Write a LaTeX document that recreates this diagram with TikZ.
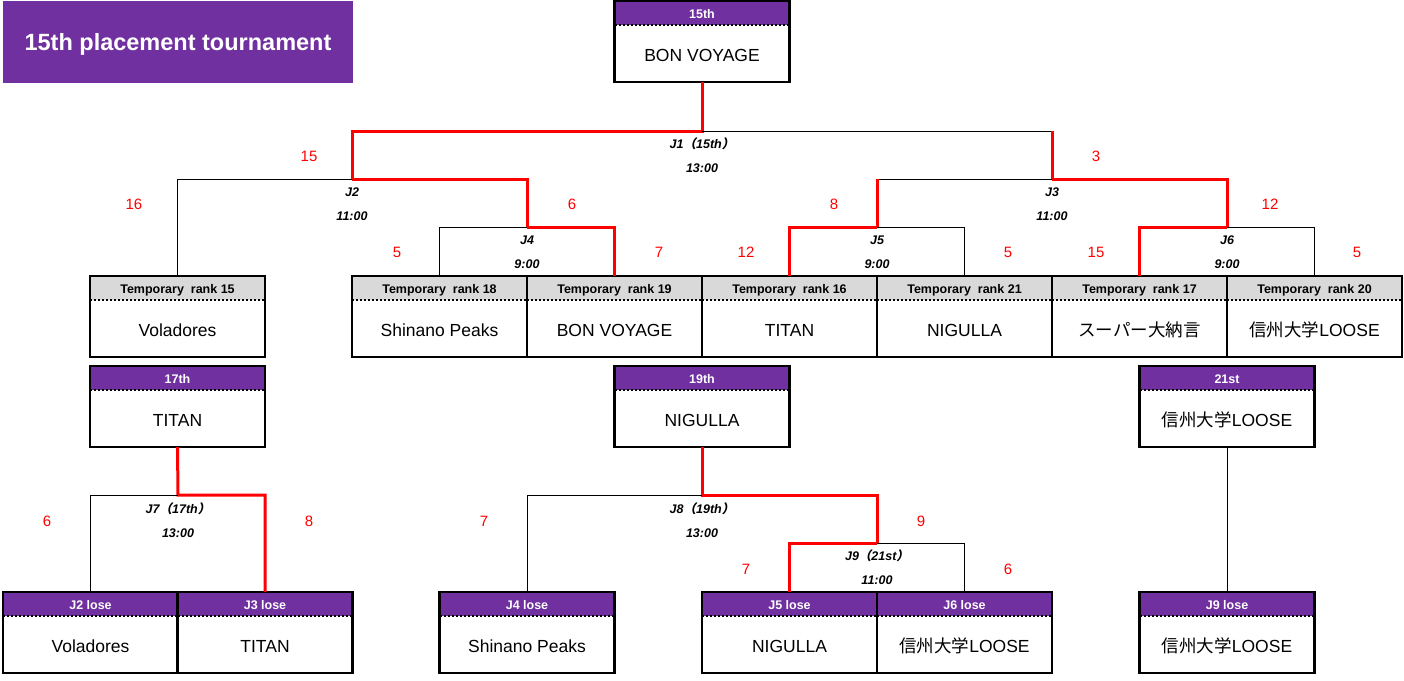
\documentclass[tikz,border=0pt]{standalone}
\usepackage{fontspec}
\setmainfont{Liberation Sans}
\newfontfamily\jp{Noto Sans CJK JP}
\newfontfamily\jpsl{Noto Sans CJK JP}[FakeSlant=0.2]
\definecolor{purp}{HTML}{7030A0}
\definecolor{hgray}{HTML}{D9D9D9}
\newcommand\teambox[6]{%
  \node[hdr#4] (#1h) at (#2,{#3+12}) {#5};
  \node[bodybox] (#1) at (#2,{#3+52.5}) {#6};
  \draw[dotsep] (#1h.south west) -- (#1h.south east);
  \draw[boxframe] (#1h.north west) rectangle (#1.south east);
}
\begin{document}
\begin{tikzpicture}[x=1pt,y=-1pt,
  bodybox/.style={minimum width=175pt,minimum height=57pt,inner sep=0pt,outer sep=0pt,
    text height=15pt,text depth=0pt,font=\fontsize{17.5}{20}\selectfont},
  hdrbase/.style={minimum width=175pt,minimum height=24pt,inner sep=0pt,outer sep=0pt,
    text height=11pt,text depth=0pt,font=\bfseries\fontsize{12.5}{14}\selectfont},
  hdrp/.style={hdrbase,fill=purp,text=white},
  hdrg/.style={hdrbase,fill=hgray,text=black},
  boxframe/.style={draw=black,line width=2.2pt},
  dotsep/.style={draw=black,line width=1.8pt,dash pattern=on 2pt off 2pt},
  win/.style={draw=red,line width=3pt},
  lose/.style={draw=black,line width=1pt},
  score/.style={text=red,font=\fontsize{15}{18}\selectfont,inner sep=0pt},
  mlab/.style={font=\bfseries\itshape\fontsize{12.5}{15}\selectfont,inner sep=0pt},
]
\useasboundingbox (0,0) rectangle (1404,680);

% title
\node[fill=purp,text=white,minimum width=350pt,minimum height=82pt,inner sep=0pt,
      text height=17pt,text depth=0pt,
      font=\bfseries\fontsize{23.5}{26}\selectfont] (title) at (178,42) {15th placement tournament};

% junction coordinates
\coordinate (J1) at (702,131);
\coordinate (J2) at (352,179);
\coordinate (J3) at (1052,179);
\coordinate (J4) at (527,227);
\coordinate (J5) at (877,227);
\coordinate (J6) at (1227,227);
\coordinate (J7) at (178,495);
\coordinate (J8) at (702,495);
\coordinate (J9) at (877,543);

% boxes
\teambox{top15}{702}{1}{p}{15th}{BON VOYAGE}

\teambox{t15}{177.5}{276}{g}{Temporary~~rank 15}{Voladores}
\teambox{t18}{439.5}{276}{g}{Temporary~~rank 18}{Shinano Peaks}
\teambox{t19}{614.5}{276}{g}{Temporary~~rank 19}{BON VOYAGE}
\teambox{t16}{789.5}{276}{g}{Temporary~~rank 16}{TITAN}
\teambox{t21}{964.5}{276}{g}{Temporary~~rank 21}{NIGULLA}
\teambox{t17}{1139.5}{276}{g}{Temporary~~rank 17}{{\jp スーパー大納言}}
\teambox{t20}{1314.5}{276}{g}{Temporary~~rank 20}{{\jp 信州大学}LOOSE}

\teambox{b17}{177.5}{366}{p}{17th}{TITAN}
\teambox{b19}{702}{366}{p}{19th}{NIGULLA}
\teambox{b21}{1227}{366}{p}{21st}{{\jp 信州大学}LOOSE}

\teambox{l2}{90.5}{592}{p}{J2 lose}{Voladores}
\teambox{l3}{265}{592}{p}{J3 lose}{TITAN}
\teambox{l4}{527}{592}{p}{J4 lose}{Shinano Peaks}
\teambox{l5}{789.5}{592}{p}{J5 lose}{NIGULLA}
\teambox{l6}{964.5}{592}{p}{J6 lose}{{\jp 信州大学}LOOSE}
\teambox{l9}{1227}{592}{p}{J9 lose}{{\jp 信州大学}LOOSE}

% connectors
\draw[win] (top15.south) -- (J1) -| (J2);
\draw[lose] (J1) -- (J3 |- J1);
\draw[win] (J3 |- J1) -- (J3);

\draw[lose] (J2) -| (t15h.north);
\draw[win] (J2) -| (J4);
\draw[lose] (J4) -| (t18h.north);
\draw[win] (J4) -| (t19h.north);

\draw[lose] (J3) -- (J5 |- J3);
\draw[win] (J5 |- J3) -- (J5);
\draw[win] (J3) -| (J6);
\draw[win] (J5) -| (t16h.north);
\draw[lose] (J5) -| (t21h.north);
\draw[win] (J6) -| (t17h.north);
\draw[lose] (J6) -| (t20h.north);

\draw[win] (b17.south) -- (J7) -| (l3h.north);
\draw[lose] (J7) -| (l2h.north);

\draw[win] (b19.south) -- (J8) -| (J9);
\draw[lose] (J8) -| (l4h.north);
\draw[win] (J9) -| (l5h.north);
\draw[lose] (J9) -| (l6h.north);

\draw[lose] (b21.south) -- (l9h.north);

% match labels
\node[mlab] (m1a) at (702,144) {J1{\jpsl （}15th{\jpsl ）}};
\node[mlab] (m1b) at (702,168) {13:00};
\node[mlab] (m2a) at (352,192) {J2};
\node[mlab] (m2b) at (352,216) {11:00};
\node[mlab] (m3a) at (1052,192) {J3};
\node[mlab] (m3b) at (1052,216) {11:00};
\node[mlab] (m4a) at (527,240) {J4};
\node[mlab] (m4b) at (527,264) {9:00};
\node[mlab] (m5a) at (877,240) {J5};
\node[mlab] (m5b) at (877,264) {9:00};
\node[mlab] (m6a) at (1227,240) {J6};
\node[mlab] (m6b) at (1227,264) {9:00};
\node[mlab] (m7a) at (178,509) {J7{\jpsl （}17th{\jpsl ）}};
\node[mlab] (m7b) at (178,533) {13:00};
\node[mlab] (m8a) at (702,509) {J8{\jpsl （}19th{\jpsl ）}};
\node[mlab] (m8b) at (702,533) {13:00};
\node[mlab] (m9a) at (877,556) {J9{\jpsl （}21st{\jpsl ）}};
\node[mlab] (m9b) at (877,580) {11:00};

% scores
\node[score] (s1) at (309,156) {15};
\node[score] (s2) at (1096,156) {3};
\node[score] (s3) at (134,204) {16};
\node[score] (s4) at (572,204) {6};
\node[score] (s5) at (834,204) {8};
\node[score] (s6) at (1270,204) {12};
\node[score] (s7) at (397,252) {5};
\node[score] (s8) at (659,252) {7};
\node[score] (s9) at (746,252) {12};
\node[score] (s10) at (1008,252) {5};
\node[score] (s11) at (1096,252) {15};
\node[score] (s12) at (1357,252) {5};
\node[score] (s13) at (47,521) {6};
\node[score] (s14) at (309,521) {8};
\node[score] (s15) at (484,521) {7};
\node[score] (s16) at (921,521) {9};
\node[score] (s17) at (746,569) {7};
\node[score] (s18) at (1008,569) {6};
\end{tikzpicture}
\end{document}
